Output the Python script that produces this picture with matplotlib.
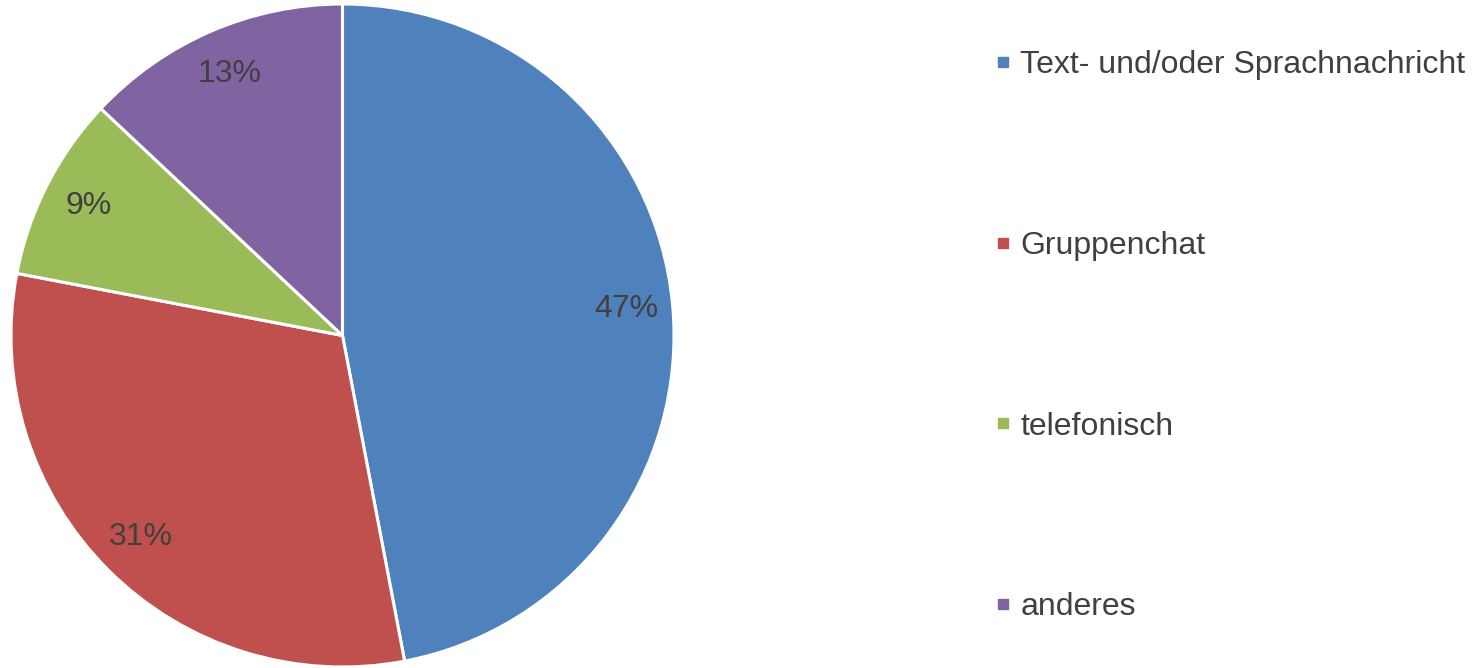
import matplotlib
matplotlib.use("Agg")
import matplotlib.pyplot as plt
from matplotlib.lines import Line2D

categories = ["Text- und/oder Sprachnachricht", "Gruppenchat", "telefonisch", "anderes"]
shares = [47, 31, 9, 13]
colors = ["#4F81BD", "#C0504D", "#9BBB59", "#8064A2"]

plt.rcParams["font.family"] = ["Liberation Sans", "DejaVu Sans"]
text_color = "#404040"

W, H, DPI = 1481, 668, 100
fig = plt.figure(figsize=(W / DPI, H / DPI), dpi=DPI)
fig.patch.set_facecolor("white")

ax = fig.add_axes([11 / W, 1 / H, 663 / W, 663 / H])
wedges, texts = ax.pie(
    shares,
    colors=colors,
    startangle=90,
    counterclock=False,
    labels=[f"{v}%" for v in shares],
    labeldistance=0.86,
    wedgeprops=dict(edgecolor="white", linewidth=2.2),
    textprops=dict(fontsize=23, color=text_color),
    radius=1.0,
)
for t in texts:
    t.set_horizontalalignment("center")
    t.set_verticalalignment("center")
ax.set_xlim(-1.0, 1.0)
ax.set_ylim(-1.0, 1.0)
ax.set_aspect("equal")

handles = [Line2D([0], [0], marker="s", linestyle="none", markersize=7,
                  markerfacecolor=c, markeredgecolor=c) for c in colors]
leg = fig.legend(
    handles, categories,
    loc="upper left",
    bbox_to_anchor=(993 / W, 1 - 50 / H),
    frameon=False,
    fontsize=23,
    labelcolor=text_color,
    handlelength=0.6,
    handletextpad=0.25,
    labelspacing=4.72,
    borderaxespad=0,
    borderpad=0,
)

fig.savefig("out.png", dpi=DPI, facecolor="white")
